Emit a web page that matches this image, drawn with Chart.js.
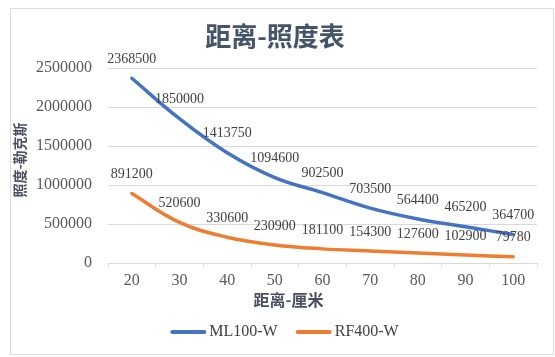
<!DOCTYPE html>
<html><head><meta charset="utf-8">
<script src="https://cdn.jsdelivr.net/npm/chart.js@4/dist/chart.umd.min.js"></script>
<style>html,body{margin:0;padding:0;background:#fff;}canvas{display:block;}</style>
</head><body>
<canvas id="c" width="555" height="357"></canvas>
<script>
const categories = ['20','30','40','50','60','70','80','90','100'];
const seriesNames = ['ML100-W','RF400-W'];
const ml100 = [2368500,1850000,1413750,1094600,902500,703500,564400,465200,364700];
const rf400 = [891200,520600,330600,230900,181100,154300,127600,102900,79780];
const yTicks = [0,500000,1000000,1500000,2000000,2500000];
const chartTitle = '距离-照度表';
const xTitle = '距离-厘米';
const yTitle = '照度-勒克斯';

const colors = ['#4472C4','#ED7D31'];
const serif = '"Liberation Serif", "Times New Roman", serif';
const cjk = '"Noto Sans CJK SC", "Noto Sans", sans-serif';

const deco = {
  id: 'deco',
  beforeDraw(chart) {
    const ctx = chart.ctx;
    ctx.save();
    ctx.fillStyle = '#fff';
    ctx.fillRect(0, 0, chart.width, chart.height);
    ctx.strokeStyle = '#DADDE2';
    ctx.lineWidth = 1;
    ctx.strokeRect(10.5, 8.5, 543, 346);
    ctx.restore();
  },
  afterDatasetsDraw(chart) {
    const ctx = chart.ctx;
    ctx.save();
    ctx.font = '14px ' + serif;
    ctx.fillStyle = '#404040';
    ctx.textAlign = 'center';
    ctx.textBaseline = 'middle';
    chart.data.datasets.forEach((ds, i) => {
      const meta = chart.getDatasetMeta(i);
      meta.data.forEach((pt, j) => {
        ctx.fillText(String(ds.data[j]), pt.x, pt.y - 19);
      });
    });
    ctx.restore();
  },
  afterDraw(chart) {
    const ctx = chart.ctx;
    ctx.save();
    // title
    ctx.fillStyle = '#44546A';
    ctx.font = 'bold 26px ' + cjk;
    ctx.textAlign = 'center';
    ctx.textBaseline = 'middle';
    ctx.fillText(chartTitle, 275, 36);
    // x title
    ctx.fillStyle = '#4A5060';
    ctx.font = 'bold 16px ' + cjk;
    ctx.fillText(xTitle, 288.5, 300);
    // y title
    ctx.save();
    ctx.translate(19.5, 160);
    ctx.rotate(-Math.PI / 2);
    ctx.font = 'bold 14px ' + cjk;
    ctx.fillText(yTitle, 0, 0);
    ctx.restore();
    // legend
    ctx.font = '16px ' + serif;
    const lineLen = 36, gapText = 3, gapItem = 18;
    const items = chart.data.datasets.map(ds => ({label: ds.label, color: ds.borderColor, w: lineLen + gapText + ctx.measureText(ds.label).width}));
    const total = items.reduce((a, it) => a + it.w, 0) + gapItem * (items.length - 1);
    let x = 284.5 - total / 2;
    const ly = 332;
    items.forEach(it => {
      ctx.strokeStyle = it.color;
      ctx.lineWidth = 4;
      ctx.lineCap = 'round';
      ctx.beginPath();
      ctx.moveTo(x + 2, ly);
      ctx.lineTo(x + lineLen - 2, ly);
      ctx.stroke();
      ctx.fillStyle = '#404040';
      ctx.textAlign = 'left';
      ctx.fillText(it.label, x + lineLen + gapText, ly);
      x += it.w + gapItem;
    });
    ctx.restore();
  }
};

new Chart(document.getElementById('c'), {
  type: 'line',
  data: {
    labels: categories,
    datasets: [
      {label: seriesNames[0], data: ml100, borderColor: colors[0], backgroundColor: colors[0]},
      {label: seriesNames[1], data: rf400, borderColor: colors[1], backgroundColor: colors[1]}
    ]
  },
  options: {
    responsive: false,
    animation: false,
    devicePixelRatio: 1,
    layout: {padding: {top: 68, left: 0, right: 18, bottom: 64}},
    elements: {
      line: {borderWidth: 3.5, tension: 0.4, fill: false, borderCapStyle: 'round', borderJoinStyle: 'round'},
      point: {radius: 0, hoverRadius: 0}
    },
    plugins: {legend: {display: false}, title: {display: false}, tooltip: {enabled: false}},
    scales: {
      x: {
        offset: true,
        grid: {offset: true, drawOnChartArea: false, drawTicks: true, tickLength: 4, color: '#D9D9D9'},
        border: {display: true, color: '#D9D9D9'},
        ticks: {font: {family: serif, size: 16}, color: '#595959', padding: 4, maxRotation: 0},
        afterFit(s) { s.height = 30; }
      },
      y: {
        min: 0, max: 2500000,
        grid: {color: '#D9D9D9', drawTicks: false},
        border: {display: false},
        ticks: {font: {family: serif, size: 16}, color: '#595959', padding: 16, callback: v => String(v)},
        afterBuildTicks(s) { s.ticks = yTicks.map(v => ({value: v})); },
        afterFit(s) { s.width = 108; }
      }
    }
  },
  plugins: [deco]
});
</script>
</body></html>
